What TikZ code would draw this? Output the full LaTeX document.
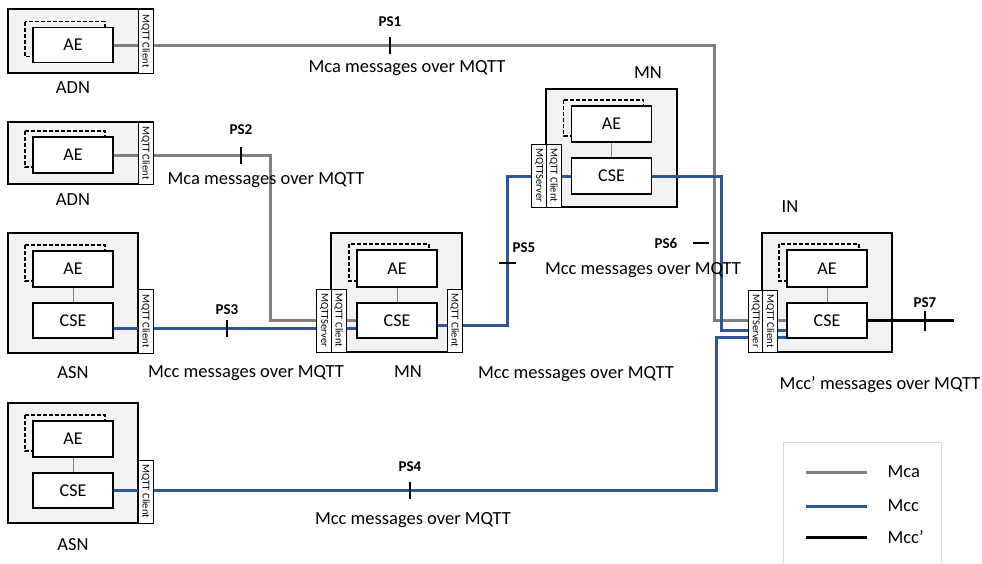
\documentclass[tikz,border=0pt]{standalone}
\usepackage{fontspec}
\setmainfont{Carlito}
\definecolor{mcagray}{RGB}{128,128,128}
\definecolor{mccblue}{RGB}{47,85,151}
\definecolor{boxfill}{RGB}{242,242,242}
\definecolor{legendgray}{RGB}{217,217,217}
\pgfdeclarelayer{boxes}
\pgfdeclarelayer{wires}
\pgfsetlayers{boxes,wires,main}

\begin{document}
\begin{tikzpicture}[x=1pt, y=-1pt,
    outerbox/.style={draw, line width=1.2pt, fill=boxfill, inner sep=0pt, outer sep=0pt},
    stripbox/.style={draw, line width=1pt, fill=white, rotate=-90, minimum height=15pt,
      inner sep=0pt, outer sep=0pt, font=\fontsize{10.5}{11}\selectfont},
    entity/.style={draw, line width=1.2pt, fill=white, minimum width=80pt, minimum height=36pt,
      inner sep=0pt, outer sep=0pt, font=\fontsize{18}{21}\selectfont},
    ghost/.style={draw, line width=1.1pt, dash pattern=on 4pt off 2pt},
    aelink/.style={draw=gray, line width=0.8pt},
    mca/.style={draw=mcagray, line width=3pt},
    mcc/.style={draw=mccblue, line width=3pt},
    mccp/.style={draw=black, line width=3pt},
    tickmark/.style={fill=black, inner sep=0pt, minimum width=2pt, minimum height=17pt},
    lbl/.style={font=\fontsize{18.5}{21}\selectfont},
    pslbl/.style={font=\fontsize{15}{17}\selectfont\bfseries}]
  \useasboundingbox (0,0) rectangle (982,563);

  % outer boxes
  \begin{pgfonlayer}{boxes}
    \node[outerbox, minimum width=145pt, minimum height=64pt] (adn1) at (80.5, 41) {};
    \node[outerbox, minimum width=145pt, minimum height=62pt] (adn2) at (80.5,153) {};
    \node[outerbox, minimum width=130pt, minimum height=120pt] (asn1) at (73,293) {};
    \node[outerbox, minimum width=130pt, minimum height=120pt] (asn2) at (73,463) {};
    \node[outerbox, minimum width=131pt, minimum height=119pt] (mn1) at (396.5,292.5) {};
    \node[outerbox, minimum width=131pt, minimum height=118pt] (mn2) at (611.5,148) {};
    \node[outerbox, minimum width=130pt, minimum height=119pt] (in1) at (827,292.5) {};
  \end{pgfonlayer}

  % MQTT strips
  \node[stripbox, minimum width=64pt] (adn1-cl) at (145.5, 41) {MQTT Client};
  \node[stripbox, minimum width=62pt] (adn2-cl) at (145.5,153) {MQTT Client};
  \node[stripbox, minimum width=64pt] (asn1-cl) at (145.5,321) {MQTT Client};
  \node[stripbox, minimum width=63pt] (asn2-cl) at (145.5,491.5) {MQTT Client};
  \node[stripbox, minimum width=63pt] (mn1-sv) at (324,320.5) {MQTTServer};
  \node[stripbox, minimum width=63pt] (mn1-cl) at (338.5,320.5) {MQTT Client};
  \node[stripbox, minimum width=63pt] (mn1-cr) at (454.5,320.5) {MQTT Client};
  \node[stripbox, minimum width=63pt] (mn2-sv) at (539,175.5) {MQTTServer};
  \node[stripbox, minimum width=63pt] (mn2-cl) at (553.5,175.5) {MQTT Client};
  \node[stripbox, minimum width=62pt] (in1-sv) at (755.5,321) {MQTTServer};
  \node[stripbox, minimum width=62pt] (in1-cl) at (770,321) {MQTT Client};

  % AE and CSE
  \node[entity, minimum height=35pt] (adn1-ae) at (73, 45) {AE};
  \node[entity] (adn2-ae) at (73,155) {AE};
  \node[entity] (asn1-ae) at (73,269) {AE};
  \node[entity, minimum height=35pt] (asn1-cse) at (73,320.5) {CSE};
  \node[entity] (asn2-ae) at (73,439) {AE};
  \node[entity, minimum height=35pt] (asn2-cse) at (73,490.5) {CSE};
  \node[entity, minimum height=37pt] (mn1-ae) at (397,268.5) {AE};
  \node[entity, minimum height=35pt] (mn1-cse) at (397,320.5) {CSE};
  \node[entity] (mn2-ae) at (611.5,124) {AE};
  \node[entity] (mn2-cse) at (611.5,176) {CSE};
  \node[entity, minimum height=37pt] (in1-ae) at (827,268.5) {AE};
  \node[entity, minimum height=35pt] (in1-cse) at (827,320.5) {CSE};

  % node names
  \node[lbl] (adn1-name) at (73, 88) {ADN};
  \node[lbl] (adn2-name) at (73,200) {ADN};
  \node[lbl] (asn1-name) at (73,373) {ASN};
  \node[lbl] (asn2-name) at (73,545) {ASN};
  \node[lbl] (mn1-name) at (408,372) {MN};
  \node[lbl] (mn2-name) at (648, 73) {MN};
  \node[lbl] (in1-name) at (790,207) {IN};

  \begin{pgfonlayer}{wires}
    \foreach \n in {adn1,adn2,asn1,asn2,mn1,mn2,in1}
      \draw[ghost] ([shift={(-8,-6)}]\n-ae.north west) rectangle ([shift={(-8,-6)}]\n-ae.south east);
    \foreach \n in {asn1,asn2,mn1,mn2,in1}
      \draw[aelink] (\n-ae) -- (\n-cse);
    % Mca
    \draw[mca] (adn1-ae.east) -| ([xshift=-73pt]in1-cse.west) -- (in1-cse.west);
    \draw[mca] (adn2-ae.east) -| ([xshift=-87pt]mn1-cse.west) -- (mn1-cse.west);
    % Mcc
    \draw[mcc] ([yshift=-7.5pt]asn1-cse.east) -- ([yshift=-7.5pt]mn1-cse.west);
    \draw[mcc] (asn2-cse.east) -| ([xshift=-71pt,yshift=-16.5pt]in1-cse.west) -- ([yshift=-16.5pt]in1-cse.west);
    \draw[mcc] ([yshift=-5pt]mn1-cse.east) -| ([xshift=-64pt]mn2-cse.west) -- (mn2-cse.west);
    \draw[mcc] (mn2-cse.east) -| ([xshift=-66pt,yshift=-9.5pt]in1-cse.west) -- ([yshift=-9.5pt]in1-cse.west);
    % Mcc'
    \coordinate (in1-out) at (954,320.5);
    \draw[mccp] (in1-cse.east) -- (in1-out);
  \end{pgfonlayer}

  % reference points
  \node[tickmark] (ps1) at (390, 45) {};
  \node[tickmark] (ps2) at (241,155) {};
  \node[tickmark] (ps3) at (227,328) {};
  \node[tickmark] (ps4) at (410,490.5) {};
  \node[tickmark, minimum width=17pt, minimum height=2pt] (ps5) at (507,263) {};
  \node[tickmark, minimum width=16pt, minimum height=2pt] (ps6) at (701,243) {};
  \node[tickmark, minimum height=20pt] (ps7) at (925,320.5) {};
  \node[pslbl] (ps1-lbl) at (390, 22) {PS1};
  \node[pslbl] (ps2-lbl) at (241,130) {PS2};
  \node[pslbl] (ps3-lbl) at (227,310) {PS3};
  \node[pslbl] (ps4-lbl) at (410,467) {PS4};
  \node[pslbl] (ps5-lbl) at (524,248) {PS5};
  \node[pslbl] (ps6-lbl) at (666,243) {PS6};
  \node[pslbl] (ps7-lbl) at (925,303) {PS7};

  \node[lbl] (msg1) at (407, 68) {Mca messages over MQTT};
  \node[lbl] (msg2) at (266,180) {Mca messages over MQTT};
  \node[lbl] (msg3) at (246,373) {Mcc messages over MQTT};
  \node[lbl] (msg4) at (413,520) {Mcc messages over MQTT};
  \node[lbl] (msg5) at (576,374) {Mcc messages over MQTT};
  \node[lbl] (msg6) at (643,270) {Mcc messages over MQTT};
  \node[lbl] (msg7) at (880,385) {Mcc’ messages over MQTT};

  % legend
  \draw[legendgray, line width=1pt] (783,563) |- (941,442) -- (941,563);
  \node[lbl, anchor=west] (lg-mca) at (884,472) {Mca};
  \node[lbl, anchor=west] (lg-mcc) at (884,506) {Mcc};
  \node[lbl, anchor=west] (lg-mccp) at (884,537) {Mcc’};
  \draw[mca] ([xshift=-78pt]lg-mca.west) -- ([xshift=-17pt]lg-mca.west);
  \draw[mcc] ([xshift=-78pt]lg-mcc.west) -- ([xshift=-17pt]lg-mcc.west);
  \draw[mccp] ([xshift=-78pt]lg-mccp.west) -- ([xshift=-17pt]lg-mccp.west);
\end{tikzpicture}
\end{document}
